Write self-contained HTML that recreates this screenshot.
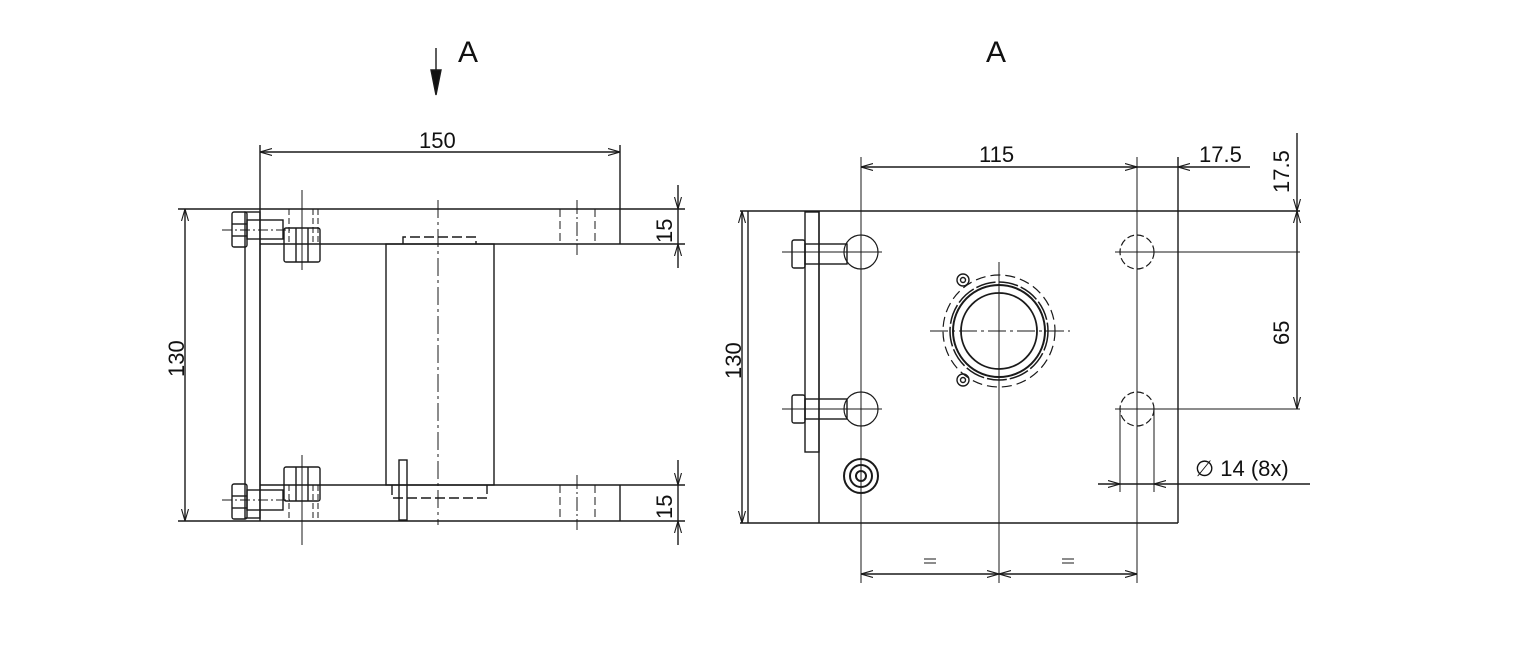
<!DOCTYPE html>
<html><head><meta charset="utf-8"><style>
html,body{margin:0;padding:0;background:#fff}
svg{display:block}
text{font-family:"Liberation Sans",Arial,sans-serif;fill:#111}
</style></head><body>
<svg width="1523" height="645" viewBox="0 0 1523 645" xmlns="http://www.w3.org/2000/svg">
<defs>
<marker id="a" viewBox="0 0 12 8" refX="12" refY="4" markerWidth="12" markerHeight="8" markerUnits="userSpaceOnUse" orient="auto-start-reverse">
<path d="M0,0.5 L12,4 L0,7.5" fill="none" stroke="#1a1a1a" stroke-width="1.1"/>
</marker>
</defs>
<g stroke="#1a1a1a" stroke-width="1.4" fill="none">
<line x1="436" y1="48" x2="436" y2="72"/>
<path d="M431,70 L441,70 L436,95 Z" fill="#111"/>

<!-- LEFT VIEW -->
<line x1="178" y1="209" x2="685" y2="209"/>
<line x1="260" y1="244" x2="685" y2="244"/>
<line x1="260" y1="485" x2="685" y2="485"/>
<line x1="178" y1="521" x2="685" y2="521"/>
<line x1="620" y1="145" x2="620" y2="244"/>
<line x1="620" y1="485" x2="620" y2="521"/>
<line x1="260" y1="145" x2="260" y2="521"/>
<rect x="245" y="212" width="15" height="306"/>
<rect x="386" y="244" width="108" height="241"/>
<path d="M403,244 V237 H476 V244" stroke-dasharray="10,4"/>
<line x1="438" y1="200" x2="438" y2="525" stroke-dasharray="18,4,3,4" stroke-width="1"/>
<path d="M392,485 V498 H487 V485" stroke-dasharray="10,4"/>
<rect x="399" y="460" width="8" height="60"/>
<g stroke-dasharray="8,4" stroke-width="1">
<line x1="560" y1="209" x2="560" y2="244"/><line x1="595" y1="209" x2="595" y2="244"/>
<line x1="560" y1="485" x2="560" y2="521"/><line x1="595" y1="485" x2="595" y2="521"/>
<line x1="577" y1="200" x2="577" y2="255" stroke-dasharray="14,3,2,3"/>
<line x1="577" y1="475" x2="577" y2="530" stroke-dasharray="14,3,2,3"/>
</g>
<rect x="232" y="212" width="15" height="35" rx="2"/>
<line x1="232" y1="224" x2="247" y2="224"/><line x1="232" y1="236" x2="247" y2="236"/>
<rect x="247" y="220" width="36" height="19"/>
<line x1="222" y1="230" x2="290" y2="230" stroke-dasharray="10,3,2,3" stroke-width="1"/>
<rect x="284" y="228" width="36" height="34" rx="2"/>
<line x1="296" y1="228" x2="296" y2="262"/><line x1="308" y1="228" x2="308" y2="262"/>
<line x1="302" y1="190" x2="302" y2="270" stroke-width="1"/>
<g stroke-dasharray="6,3" stroke-width="1"><line x1="289" y1="209" x2="289" y2="244"/><line x1="313" y1="209" x2="313" y2="244"/><line x1="318" y1="209" x2="318" y2="244"/></g>
<rect x="232" y="484" width="15" height="35" rx="2"/>
<line x1="232" y1="496" x2="247" y2="496"/><line x1="232" y1="508" x2="247" y2="508"/>
<rect x="247" y="490" width="36" height="20"/>
<line x1="222" y1="500" x2="290" y2="500" stroke-dasharray="10,3,2,3" stroke-width="1"/>
<rect x="284" y="467" width="36" height="34" rx="2"/>
<line x1="296" y1="467" x2="296" y2="501"/><line x1="308" y1="467" x2="308" y2="501"/>
<line x1="302" y1="455" x2="302" y2="545" stroke-width="1"/>
<g stroke-dasharray="6,3" stroke-width="1"><line x1="289" y1="485" x2="289" y2="521"/><line x1="313" y1="485" x2="313" y2="521"/><line x1="318" y1="485" x2="318" y2="521"/></g>

<line x1="185" y1="209" x2="185" y2="521" marker-start="url(#a)" marker-end="url(#a)"/>
<line x1="260" y1="152" x2="620" y2="152" marker-start="url(#a)" marker-end="url(#a)"/>
<line x1="678" y1="185" x2="678" y2="209" marker-end="url(#a)"/>
<line x1="678" y1="244" x2="678" y2="268" marker-start="url(#a)"/>
<line x1="678" y1="209" x2="678" y2="244"/>
<line x1="678" y1="460" x2="678" y2="485" marker-end="url(#a)"/>
<line x1="678" y1="521" x2="678" y2="545" marker-start="url(#a)"/>
<line x1="678" y1="485" x2="678" y2="521"/>

<!-- RIGHT VIEW -->
<line x1="740" y1="211" x2="1300" y2="211"/>
<line x1="740" y1="523" x2="1178" y2="523"/>
<line x1="1178" y1="157" x2="1178" y2="523"/>
<line x1="819" y1="211" x2="819" y2="523"/>
<rect x="805" y="212" width="14" height="240"/>
<line x1="748" y1="211" x2="748" y2="523"/>
<g stroke-width="1.2">
<circle cx="861" cy="252" r="17"/><circle cx="861" cy="409" r="17"/>
<circle cx="1137" cy="252" r="17" stroke-dasharray="7,3"/><circle cx="1137" cy="409" r="17" stroke-dasharray="7,3"/>
</g>
<g stroke-width="1">
<line x1="861" y1="157" x2="861" y2="583"/>
<line x1="1137" y1="157" x2="1137" y2="583"/>
<line x1="1115" y1="252" x2="1300" y2="252"/>
<line x1="1115" y1="409" x2="1300" y2="409"/>
<line x1="782" y1="252" x2="882" y2="252"/>
<line x1="782" y1="409" x2="882" y2="409"/>
<line x1="1120" y1="409" x2="1120" y2="492"/>
<line x1="1154" y1="409" x2="1154" y2="492"/>
</g>
<rect x="792" y="240" width="13" height="28" rx="2"/>
<rect x="805" y="244" width="42" height="20"/>
<rect x="792" y="395" width="13" height="28" rx="2"/>
<rect x="805" y="399" width="42" height="20"/>
<circle cx="861" cy="476" r="17" stroke-width="2"/>
<circle cx="861" cy="476" r="11" stroke-width="2"/>
<circle cx="861" cy="476" r="5" stroke-width="2"/>
<circle cx="999" cy="331" r="38" stroke-width="1.8"/>
<circle cx="999" cy="331" r="46" stroke-width="2"/>
<circle cx="999" cy="331" r="49" stroke-width="1.5" stroke-dasharray="20,3"/>
<circle cx="999" cy="331" r="56" stroke-dasharray="10,5" stroke-width="1.2"/>
<circle cx="963" cy="280" r="6"/><circle cx="963" cy="280" r="2.5"/>
<circle cx="963" cy="380" r="6"/><circle cx="963" cy="380" r="2.5"/>
<line x1="999" y1="262" x2="999" y2="583" stroke-width="1"/>
<line x1="930" y1="331" x2="1070" y2="331" stroke-width="1" stroke-dasharray="18,4,3,4"/>
<line x1="861" y1="167" x2="1137" y2="167" marker-start="url(#a)" marker-end="url(#a)"/>
<line x1="1137" y1="167" x2="1178" y2="167"/>
<line x1="1178" y1="167" x2="1250" y2="167" marker-start="url(#a)"/>
<line x1="1297" y1="133" x2="1297" y2="211" marker-end="url(#a)"/>
<line x1="1297" y1="211" x2="1297" y2="409" marker-start="url(#a)" marker-end="url(#a)"/>
<line x1="1098" y1="484" x2="1120" y2="484" marker-end="url(#a)"/>
<line x1="1120" y1="484" x2="1154" y2="484"/>
<line x1="1310" y1="484" x2="1154" y2="484" marker-end="url(#a)"/>
<line x1="742" y1="211" x2="742" y2="523" marker-start="url(#a)" marker-end="url(#a)"/>
<line x1="861" y1="574" x2="999" y2="574" marker-start="url(#a)" marker-end="url(#a)"/>
<line x1="999" y1="574" x2="1137" y2="574" marker-start="url(#a)" marker-end="url(#a)"/>
<line x1="924" y1="559" x2="936" y2="559" stroke-width="1"/><line x1="924" y1="563" x2="936" y2="563" stroke-width="1"/>
<line x1="1062" y1="559" x2="1074" y2="559" stroke-width="1"/><line x1="1062" y1="563" x2="1074" y2="563" stroke-width="1"/>
</g>
<text x="458" y="62" font-size="30">A</text>
<text x="986" y="62" font-size="30">A</text>
<text x="419" y="148" font-size="22">150</text>
<text x="979" y="162" font-size="22">115</text>
<text x="1199" y="162" font-size="22">17.5</text>
<text font-size="22" transform="translate(1289,193) rotate(-90)">17.5</text>
<text font-size="22" transform="translate(1289,345) rotate(-90)">65</text>
<text font-size="22" transform="translate(672,243) rotate(-90)">15</text>
<text font-size="22" transform="translate(672,519) rotate(-90)">15</text>
<text font-size="22" transform="translate(184,377) rotate(-90)">130</text>
<text font-size="22" transform="translate(741,379) rotate(-90)">130</text>
<text x="1195" y="476" font-size="22">∅ 14 (8x)</text>
</svg>
</body></html>
